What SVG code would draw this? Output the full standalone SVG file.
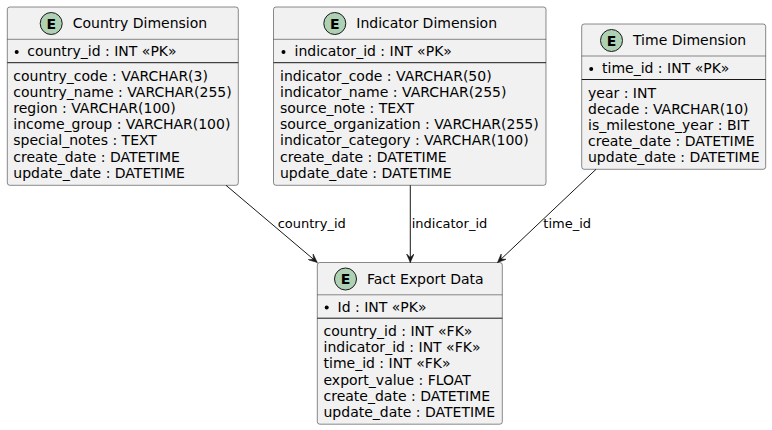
<svg xmlns="http://www.w3.org/2000/svg" width="772" height="430" viewBox="0 0 772 430">
<defs>
<style>
.box{fill:#F1F1F1;stroke:#181818;stroke-width:0.5}
.sep{stroke:#181818;stroke-width:0.5}
.sep2{stroke:#181818;stroke-width:1}
.spot{fill:#ADD1B2;stroke:#181818;stroke-width:1}
.spotc{font-family:"DejaVu Sans",sans-serif;font-size:14px;font-weight:bold;fill:#000;text-anchor:middle}
.title{font-family:"DejaVu Sans",sans-serif;font-size:14px;fill:#000}
.attr{font-family:"DejaVu Sans",sans-serif;font-size:14px;fill:#000}
.bul{fill:#000}
.link{stroke:#181818;stroke-width:1;fill:none}
.lbl{font-family:"DejaVu Sans",sans-serif;font-size:13px;fill:#000}
</style>
<marker id="arr" markerUnits="userSpaceOnUse" markerWidth="10" markerHeight="8" refX="9" refY="4" orient="auto" viewBox="0 0 10 8">
<path d="M0,0 L9,4 L0,8 L4,4 Z" fill="#181818" stroke="#181818" stroke-width="0.5"/>
</marker>
</defs>
<rect width="772" height="430" fill="#FFFFFF"/>

<g id="country">
<rect class="box" x="7.3" y="7" width="231" height="178.3" rx="2.5"/>
<circle class="spot" cx="51.2" cy="23.5" r="11"/>
<text class="spotc" x="51.2" y="28.5">E</text>
<text class="title" x="72.7" y="28">Country Dimension</text>
<line class="sep" x1="7.3" y1="39.3" x2="238.3" y2="39.3"/>
<circle class="bul" cx="16.7" cy="52" r="2"/>
<text class="attr" x="27.3" y="56.3">country_id : INT «PK»</text>
<line class="sep2" x1="7.3" y1="62.7" x2="238.3" y2="62.7"/>
<text class="attr" x="13.3" y="80.5">country_code : VARCHAR(3)</text>
<text class="attr" x="13.3" y="96.7">country_name : VARCHAR(255)</text>
<text class="attr" x="13.3" y="112.9">region : VARCHAR(100)</text>
<text class="attr" x="13.3" y="129.1">income_group : VARCHAR(100)</text>
<text class="attr" x="13.3" y="145.3">special_notes : TEXT</text>
<text class="attr" x="13.3" y="161.5">create_date : DATETIME</text>
<text class="attr" x="13.3" y="177.7">update_date : DATETIME</text>
</g>

<g id="indicator">
<rect class="box" x="273.5" y="7" width="272.5" height="178.3" rx="2.5"/>
<circle class="spot" cx="334.8" cy="23.5" r="11"/>
<text class="spotc" x="334.8" y="28.5">E</text>
<text class="title" x="356.3" y="28">Indicator Dimension</text>
<line class="sep" x1="273.5" y1="39.3" x2="546" y2="39.3"/>
<circle class="bul" cx="283.5" cy="52" r="2"/>
<text class="attr" x="294.5" y="56.3">indicator_id : INT «PK»</text>
<line class="sep2" x1="273.5" y1="62.7" x2="546" y2="62.7"/>
<text class="attr" x="280" y="80.5">indicator_code : VARCHAR(50)</text>
<text class="attr" x="280" y="96.7">indicator_name : VARCHAR(255)</text>
<text class="attr" x="280" y="112.9">source_note : TEXT</text>
<text class="attr" x="280" y="129.1">source_organization : VARCHAR(255)</text>
<text class="attr" x="280" y="145.3">indicator_category : VARCHAR(100)</text>
<text class="attr" x="280" y="161.5">create_date : DATETIME</text>
<text class="attr" x="280" y="177.7">update_date : DATETIME</text>
</g>

<g id="time">
<rect class="box" x="581.7" y="24" width="184" height="145.3" rx="2.5"/>
<circle class="spot" cx="611.5" cy="40.5" r="11"/>
<text class="spotc" x="611.5" y="45.5">E</text>
<text class="title" x="633" y="45">Time Dimension</text>
<line class="sep" x1="581.7" y1="56" x2="765.7" y2="56"/>
<circle class="bul" cx="591.2" cy="69" r="2"/>
<text class="attr" x="602" y="73.3">time_id : INT «PK»</text>
<line class="sep2" x1="581.7" y1="79.5" x2="765.7" y2="79.5"/>
<text class="attr" x="588" y="97.5">year : INT</text>
<text class="attr" x="588" y="113.7">decade : VARCHAR(10)</text>
<text class="attr" x="588" y="129.9">is_milestone_year : BIT</text>
<text class="attr" x="588" y="146.1">create_date : DATETIME</text>
<text class="attr" x="588" y="162.3">update_date : DATETIME</text>
</g>

<g id="fact">
<rect class="box" x="317.3" y="262.5" width="185" height="161.7" rx="2.5"/>
<circle class="spot" cx="345.5" cy="279" r="11"/>
<text class="spotc" x="345.5" y="284">E</text>
<text class="title" x="367" y="283.5">Fact Export Data</text>
<line class="sep" x1="317.3" y1="294.8" x2="502.3" y2="294.8"/>
<circle class="bul" cx="326.7" cy="307.5" r="2"/>
<text class="attr" x="337.5" y="311.8">Id : INT «PK»</text>
<line class="sep2" x1="317.3" y1="318.2" x2="502.3" y2="318.2"/>
<text class="attr" x="323.5" y="336">country_id : INT «FK»</text>
<text class="attr" x="323.5" y="352.2">indicator_id : INT «FK»</text>
<text class="attr" x="323.5" y="368.4">time_id : INT «FK»</text>
<text class="attr" x="323.5" y="384.6">export_value : FLOAT</text>
<text class="attr" x="323.5" y="400.8">create_date : DATETIME</text>
<text class="attr" x="323.5" y="417">update_date : DATETIME</text>
</g>

<g id="connectors">
<line class="link" x1="226" y1="185.3" x2="317.3" y2="262.5" marker-end="url(#arr)"/>
<text class="lbl" x="277.7" y="228.3">country_id</text>
<line class="link" x1="410.3" y1="185.3" x2="410.3" y2="262.5" marker-end="url(#arr)"/>
<text class="lbl" x="411.7" y="228.3">indicator_id</text>
<line class="link" x1="596" y1="169.3" x2="497.5" y2="262.5" marker-end="url(#arr)"/>
<text class="lbl" x="543.3" y="228.3">time_id</text>
</g>
</svg>
